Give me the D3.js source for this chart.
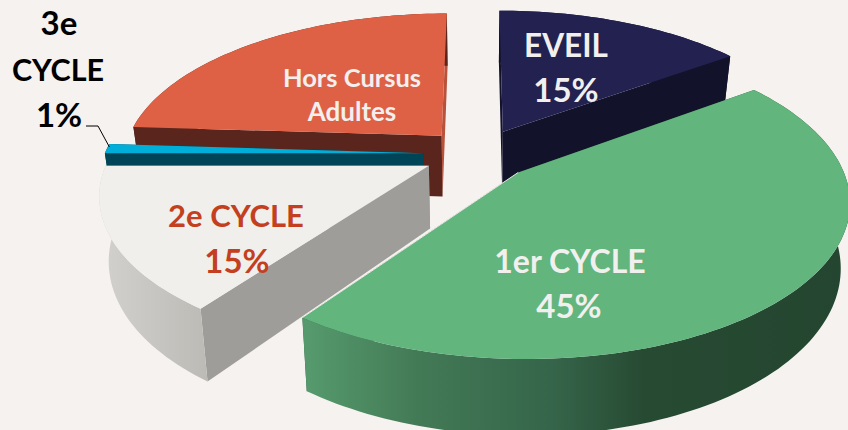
<!DOCTYPE html>
<html>
<head>
<meta charset="utf-8">
<script src="https://cdn.jsdelivr.net/npm/d3@7"></script>
<style>
  html, body { margin: 0; padding: 0; background: #f5f2ef; overflow: hidden; }
  text { font-family: Lato, "Open Sans", sans-serif; font-weight: 700; text-anchor: middle; }
</style>
</head>
<body>
<div id="chart"></div>
<script>
var categories = ["EVEIL", "1er CYCLE", "2e CYCLE", "3e CYCLE", "Hors Cursus Adultes"]
var values = [15, 45, 15, 1, 24]

var topColors = ["#232150", "#61b57d", "#f0efec", "#00afd9", "#de6146"]
var wallColors = ["#13122b", "#2f5a3d", "#9e9d9a", "#004457", "#59251c"]
var endWallColors = ["#13122b", "#2f5a3d", "#9e9d9a", "#004457", "#b9523b"]

// the labels as the slide has them, one row per line
var labelRows = ["EVEIL", "15%", "1er CYCLE", "45%", "2e CYCLE", "15%", "3e", "CYCLE", "1%", "Hors Cursus", "Adultes"]
var labelSlice = [0, 0, 1, 1, 2, 2, 3, 3, 3, 4, 4]
var labelX = [566, 566, 570, 569, 236, 237, 59, 58, 59, 352, 352]
var labelY = [57, 102, 273, 318, 227, 273, 35, 81, 127, 87, 121]
var labelSize = [31.5, 33, 32, 33, 31, 33, 33, 30.5, 33, 25.5, 26]
var labelColors = ["#f2f0ee", "#f2f0ee", "#c33f20", "#000000", "#f2f0ee"]

var width = 848, height = 430

// 3d pie camera
var cx = 478.5, cy = 154
var radius = 319, explode = 55, tilt = 0.465, focal = 1900
var thick = 62, shrink = 0.975

var svg = d3.select("#chart").append("svg")
  .attr("width", width)
  .attr("height", height)
  .style("display", "block")

var defs = svg.append("defs")

function wallGradient(id, x1, x2, stops) {
  var g = defs.append("linearGradient")
    .attr("id", id)
    .attr("gradientUnits", "userSpaceOnUse")
    .attr("x1", x1).attr("x2", x2)
    .attr("y1", 0).attr("y2", 0)
  stops.forEach(function(s) {
    g.append("stop").attr("offset", s[0]).attr("stop-color", s[1])
  })
}
wallGradient("greenWall", 310, 848, [[0, "#55996c"], [0.2, "#437a56"], [0.45, "#35654a"], [0.62, "#274a33"], [1, "#244630"]])
wallGradient("greyWall", 105, 210, [[0, "#d2d0cd"], [1, "#bbbab5"]])

var pie = d3.pie().sort(null).value(function(d) { return d })
var slices = pie(values)

// ground plane point -> screen point, z = 1 is the underside of the pie
function project(gx, gy, z) {
  var p = focal / (focal - gy)
  var sx = cx + gx * p
  var sy = cy + tilt * gy * p
  if (z) {
    sx = cx + (sx - cx) * shrink
    sy = sy + thick * p
  }
  return [sx, sy]
}

function apex(s, z) {
  var mid = (s.startAngle + s.endAngle) / 2
  return project(explode * Math.sin(mid), -explode * Math.cos(mid), z)
}

function rim(s, a, z) {
  var mid = (s.startAngle + s.endAngle) / 2
  var gx = explode * Math.sin(mid) + radius * Math.sin(a)
  var gy = -explode * Math.cos(mid) - radius * Math.cos(a)
  return project(gx, gy, z)
}

function arcAngles(s) {
  var n = Math.max(2, Math.ceil((s.endAngle - s.startAngle) * 40))
  return d3.range(n + 1).map(function(i) {
    return s.startAngle + (s.endAngle - s.startAngle) * i / n
  })
}

var line = d3.line()
function closed(points) { return line(points) + "Z" }

function radialWall(s, a) {
  return closed([apex(s, 0), rim(s, a, 0), rim(s, a, 1), apex(s, 1)])
}

// back to front, as they overlap in the picture
var order = [4, 0, 3, 2, 1]

order.forEach(function(i) {
  var s = slices[i]
  var g = svg.append("g").attr("class", "slice")
  var angles = arcAngles(s)

  var outer = angles.map(function(a) { return rim(s, a, 0) })
    .concat(angles.slice().reverse().map(function(a) { return rim(s, a, 1) }))

  g.append("path").attr("d", radialWall(s, s.endAngle)).attr("fill", endWallColors[i])
  g.append("path").attr("d", radialWall(s, s.startAngle)).attr("fill", wallColors[i])
  g.append("path")
    .attr("d", closed(outer))
    .attr("fill", i == 1 ? "url(#greenWall)" : i == 2 ? "url(#greyWall)" : wallColors[i])

  var top = [apex(s, 0)].concat(angles.map(function(a) { return rim(s, a, 0) }))
  g.append("path").attr("d", closed(top)).attr("fill", topColors[i])

  // thin highlight on the cut edge of the big slice
  if (i == 1) {
    g.append("path")
      .attr("d", line([apex(s, 0), rim(s, s.endAngle, 0)]))
      .attr("stroke", "#e6e6e2")
      .attr("stroke-width", 1)
      .attr("fill", "none")
  }
})

// leader of the 1% label
var leaderEnd = rim(slices[3], slices[3].endAngle, 0)
svg.append("path")
  .attr("d", line([[86, 126], [98, 126], [leaderEnd[0], leaderEnd[1] + 3]]))
  .attr("fill", "none")
  .attr("stroke", "#000")
  .attr("stroke-width", 1)

svg.selectAll(".label")
  .data(labelRows)
  .enter().append("text")
    .attr("class", "label")
    .attr("x", function(d, i) { return labelX[i] })
    .attr("y", function(d, i) { return labelY[i] })
    .attr("font-size", function(d, i) { return labelSize[i] + "px" })
    .attr("fill", function(d, i) { return labelColors[labelSlice[i]] })
    .text(function(d) { return d })
</script>
</body>
</html>
